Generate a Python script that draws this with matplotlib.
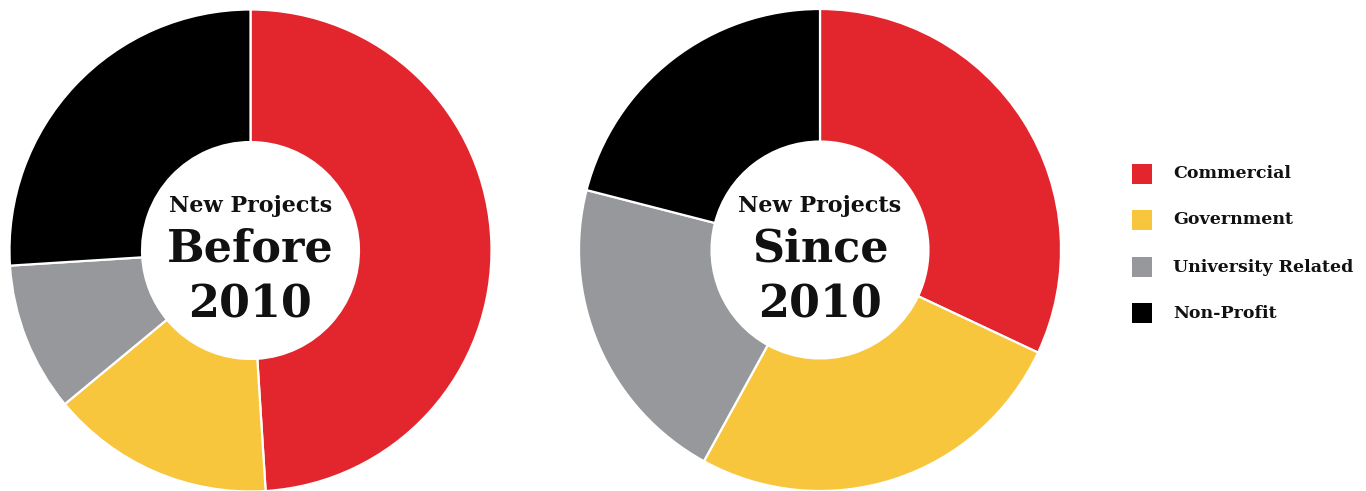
import matplotlib
matplotlib.use('Agg')
import matplotlib.pyplot as plt
from matplotlib.patches import Rectangle

# ------------------------------------------------------------
# Data (shares, percent)
# ------------------------------------------------------------
categories = ['Commercial', 'Government', 'University Related', 'Non-Profit']
before_2010 = [49, 15, 10, 26]
since_2010 = [32, 26, 21, 21]
chart_titles = [('New Projects', 'Before', '2010'), ('New Projects', 'Since', '2010')]

colors = ['#E3262E', '#F7C63D', '#97989B', '#000000']
text_color = '#111111'

W, H = 1366, 491
fig = plt.figure(figsize=(W / 100, H / 100), dpi=100)
fig.patch.set_facecolor('white')

def px_axes(cx, cy, r):
    """axes square centred on pixel (cx, cy) measured from top-left"""
    return fig.add_axes([(cx - r) / W, (H - cy - r) / H, 2 * r / W, 2 * r / H])

centers = [(250.5, 250.5), (820, 250)]
radius = 241

for (cx, cy), values, title in zip(centers, [before_2010, since_2010], chart_titles):
    ax = px_axes(cx, cy, radius)
    ax.pie(values, colors=colors, startangle=90, counterclock=False, radius=1,
           wedgeprops=dict(width=0.55, edgecolor='white', linewidth=1.6))
    ax.set_xlim(-1, 1)
    ax.set_ylim(-1, 1)
    ax.set_aspect('equal')
    ax.axis('off')

    # centre labels (y in axes units: radius 241px -> 1.0)
    ax.text(0, (cy - 212) / radius, title[0], ha='center', va='baseline',
            fontsize=16, fontweight='bold', family='DejaVu Serif', color=text_color)
    ax.text(0, (cy - 262) / radius, title[1], ha='center', va='baseline',
            fontsize=32, fontweight='bold', family='DejaVu Serif', color=text_color)
    ax.text(0, (cy - 318) / radius, title[2], ha='center', va='baseline',
            fontsize=32, fontweight='bold', family='DejaVu Serif', color=text_color)

# ------------------------------------------------------------
# Legend (manual, square swatches)
# ------------------------------------------------------------
legend_y = [174, 220, 267, 313]
for label, col, y in zip(categories, colors, legend_y):
    fig.add_artist(Rectangle((1132 / W, (H - y - 10) / H), 20 / W, 20 / H,
                             transform=fig.transFigure, facecolor=col, edgecolor='none'))
    fig.text(1173 / W, (H - y) / H, label, ha='left', va='center',
             fontsize=12.5, fontweight='bold', family='DejaVu Serif', color=text_color)

plt.savefig('out.png', dpi=100)
plt.close()
